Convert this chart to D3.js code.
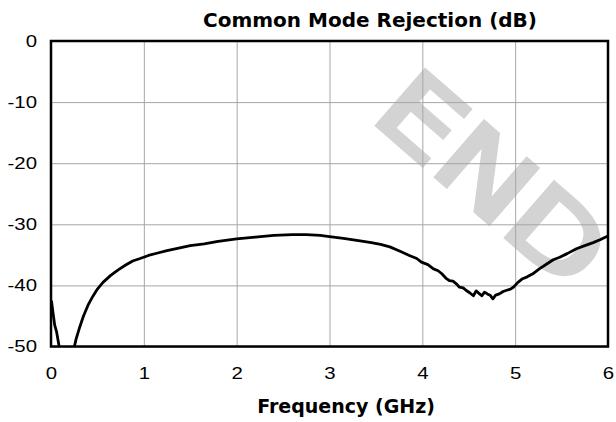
<!DOCTYPE html>
<html>
<head>
<meta charset="utf-8">
<script src="https://cdn.jsdelivr.net/npm/d3@7"></script>
<style>
  body { margin: 0; background: #fff; }
  svg { display: block; font-family: "DejaVu Sans", sans-serif; }
</style>
</head>
<body>
<svg id="chart" width="616" height="422"></svg>
<script>
// measured curve (GHz, dB)
const freq = [0.005, 0.02, 0.04, 0.06, 0.09, 0.12, 0.18, 0.24, 0.27, 0.31, 0.35, 0.40, 0.45, 0.50, 0.56,
  0.64, 0.72, 0.80, 0.88, 0.96, 1.05, 1.15, 1.25, 1.40, 1.50, 1.65, 1.80, 2.00, 2.20, 2.40, 2.60, 2.75,
  2.90, 3.00, 3.15, 3.33, 3.45, 3.55, 3.65, 3.76, 3.86, 3.94, 3.99, 4.06, 4.12, 4.17, 4.21, 4.26, 4.29,
  4.33, 4.37, 4.40, 4.44, 4.47, 4.51, 4.55, 4.58, 4.61, 4.64, 4.67, 4.70, 4.73, 4.76, 4.79, 4.83, 4.87,
  4.91, 4.95, 4.98, 5.03, 5.08, 5.13, 5.19, 5.26, 5.34, 5.41, 5.48, 5.56, 5.66, 5.75, 5.84, 5.92, 6.00];
const cmr = [-42.5, -44.3, -46.5, -47.6, -50.2, -53, -54, -50.8, -48.8, -46.8, -45.0, -43.2, -41.8, -40.6, -39.5,
  -38.4, -37.5, -36.7, -36.0, -35.6, -35.1, -34.7, -34.3, -33.8, -33.5, -33.2, -32.8, -32.4, -32.1, -31.8, -31.7, -31.7,
  -31.8, -32.0, -32.3, -32.7, -33.0, -33.3, -33.7, -34.4, -35.1, -35.6, -36.2, -36.6, -37.3, -37.6, -38.1, -38.9, -39.2,
  -39.3, -39.8, -40.3, -40.4, -40.8, -41.2, -41.7, -40.9, -41.3, -41.7, -41.1, -41.4, -41.6, -42.2, -41.6, -41.4, -41.0,
  -40.8, -40.6, -40.3, -39.5, -38.9, -38.6, -38.1, -37.3, -36.5, -35.8, -35.4, -34.8, -34.0, -33.5, -33.0, -32.5, -31.9];

const xTicks = [0, 1, 2, 3, 4, 5, 6];
const yTicks = [0, -10, -20, -30, -40, -50];
const title = "Common Mode Rejection (dB)";
const xTitle = "Frequency (GHz)";
const watermark = "END OF LIFE";

const W = 616, H = 422;
const margin = { top: 41, right: 8, bottom: 75.5, left: 51 };
const w = W - margin.left - margin.right;
const h = H - margin.top - margin.bottom;

const svg = d3.select("#chart");

// watermark sits behind everything (squat, heavy letters)
svg.append("text")
    .attr("transform", "translate(369,118) rotate(41) scale(1,0.8)")
    .attr("font-size", 124)
    .attr("fill", "#d3d3d3")
    .attr("stroke", "#d3d3d3")
    .attr("stroke-width", 6)
    .text(watermark);

const g = svg.append("g").attr("transform", `translate(${margin.left},${margin.top})`);

const x = d3.scaleLinear().domain([0, 6]).range([0, w]);
const y = d3.scaleLinear().domain([-50, 0]).range([h, 0]);

// plain hyphen for negatives, like the original
const fmt = d => String(d);

// x axis + vertical grid
const xAxis = g.append("g")
    .attr("transform", `translate(0,${h})`)
    .call(d3.axisBottom(x).tickValues(xTicks).tickSize(-h).tickPadding(20).tickFormat(fmt));
xAxis.select(".domain").remove();
xAxis.selectAll("line").attr("stroke", "#a6a6a6").attr("stroke-width", 1);
xAxis.selectAll("text")
    .attr("font-size", 17)
    .attr("fill", "#000")
    .attr("transform", "scale(1.2,1)");

// y axis + horizontal grid
const yAxis = g.append("g")
    .call(d3.axisLeft(y).tickValues(yTicks).tickSize(-w).tickPadding(14).tickFormat(fmt));
yAxis.select(".domain").remove();
yAxis.selectAll("line").attr("stroke", "#a6a6a6").attr("stroke-width", 1);
yAxis.selectAll("text")
    .attr("font-size", 17)
    .attr("fill", "#000")
    .attr("x", 0)
    .attr("transform", "translate(-14,0) scale(1.2,1)");

// clip the trace to the plot box
g.append("clipPath").attr("id", "plotClip")
  .append("rect").attr("width", w).attr("height", h);

const pts = freq.map((f, i) => [f, cmr[i]]);
const line = d3.line().x(d => x(d[0])).y(d => y(d[1]));

g.append("path")
    .datum(pts)
    .attr("clip-path", "url(#plotClip)")
    .attr("fill", "none")
    .attr("stroke", "#000")
    .attr("stroke-width", 2.8)
    .attr("stroke-linejoin", "round")
    .attr("d", line);

// plot frame
g.append("rect")
    .attr("width", w).attr("height", h)
    .attr("fill", "none")
    .attr("stroke", "#000")
    .attr("stroke-width", 2.5);

svg.append("text")
    .attr("x", 370).attr("y", 27)
    .attr("text-anchor", "middle")
    .attr("font-size", 20)
    .attr("font-weight", "bold")
    .text(title);

svg.append("text")
    .attr("x", 346).attr("y", 413)
    .attr("text-anchor", "middle")
    .attr("font-size", 19)
    .attr("font-weight", "bold")
    .text(xTitle);
</script>
</body>
</html>
